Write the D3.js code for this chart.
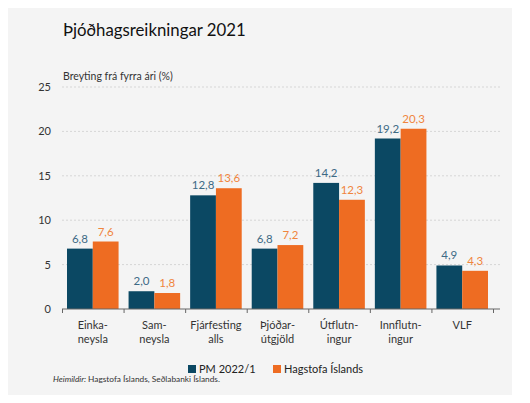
<!DOCTYPE html>
<html><head><meta charset="utf-8">
<script src="https://cdn.jsdelivr.net/npm/d3@7"></script>
<style>html,body{margin:0;padding:0;background:#fff;}svg{display:block;font-family:Lato,"Open Sans",sans-serif;}</style>
</head><body>
<svg id="c" width="530" height="403"></svg>
<script>
const categories = [["Einka-","neysla"],["Sam-","neysla"],["Fjárfesting","alls"],["Þjóðar-","útgjöld"],["Útflutn-","ingur"],["Innflutn-","ingur"],["VLF"]];
const seriesNames = ["PM 2022/1","Hagstofa Íslands"];
const pmValues = [6.8, 2.0, 12.8, 6.8, 14.2, 19.2, 4.9];
const hagValues = [7.6, 1.8, 13.6, 7.2, 12.3, 20.3, 4.3];
const yTicks = [0,5,10,15,20,25];
const colors = ["#0b4863","#ee6c22"];
const labelColors = ["#3d6a85","#f0853d"];

const svg = d3.select("#c");
svg.append("rect").attr("x",8).attr("y",8).attr("width",504).attr("height",387).attr("fill","#f4f4f4");

const x0 = d3.scaleBand().domain(d3.range(categories.length)).range([62,493]).paddingInner(0).paddingOuter(0);
const x1 = d3.scaleBand().domain([0,1]).range([5, x0.bandwidth()-5]).padding(0);
const y = d3.scaleLinear().domain([0,25]).range([309,87]);

// gridlines
svg.append("g").selectAll("line").data(yTicks.filter(d=>d>0)).join("line")
  .attr("x1",62).attr("x2",500).attr("y1",d=>y(d)).attr("y2",d=>y(d))
  .attr("stroke","#d6d6d6").attr("stroke-width",1).attr("stroke-dasharray","2,2");

// y tick labels
svg.append("g").selectAll("text").data(yTicks).join("text")
  .attr("x",51).attr("y",d=>y(d)+4).attr("text-anchor","end")
  .attr("font-size",11).attr("fill","#333").text(d=>d);

const data = [pmValues, hagValues];
data.forEach((vals,s)=>{
  svg.append("g").selectAll("rect").data(vals).join("rect")
    .attr("x",(d,i)=>x0(i)+x1(s)).attr("width",x1.bandwidth())
    .attr("y",d=>y(d)).attr("height",d=>y(0)-y(d))
    .attr("fill",colors[s]);
  svg.append("g").selectAll("text").data(vals).join("text")
    .attr("x",(d,i)=>x0(i)+x1(s)+x1.bandwidth()/2).attr("y",d=>y(d)-6)
    .attr("text-anchor","middle").attr("font-size",11.5).attr("fill",labelColors[s])
    .text(d=>d3.format(".1f")(d).replace(".",","));
});

// x axis
const xAxis = d3.axisBottom(d3.scaleLinear().domain([0,7]).range([62,493])).tickValues(d3.range(8)).tickSize(4).tickFormat("");
const ga = svg.append("g").attr("transform","translate(0,309)").call(xAxis);
ga.select(".domain").attr("stroke","#666").attr("d","M62,0H500");
ga.selectAll(".tick line").attr("stroke","#666");

// category labels
const cl = svg.append("g").selectAll("text").data(categories).join("text")
  .attr("x",(d,i)=>x0(i)+x0.bandwidth()/2).attr("y",329)
  .attr("text-anchor","middle").attr("font-size",11).attr("fill","#333");
cl.each(function(d){
  const t=d3.select(this);
  d.forEach((line,k)=>t.append("tspan").attr("x",t.attr("x")).attr("dy",k===0?0:14).text(line));
});

// title
svg.append("text").attr("x",63).attr("y",36).attr("font-size",16.8).attr("fill","#111").text("Þjóðhagsreikningar 2021");
svg.append("text").attr("x",63).attr("y",80).attr("font-size",10.5).attr("fill","#333").text("Breyting frá fyrra ári (%)");

// legend
const legX = [188, 273];
seriesNames.forEach((n,s)=>{
  svg.append("rect").attr("x",legX[s]).attr("y",365).attr("width",8).attr("height",8).attr("fill",colors[s]);
  svg.append("text").attr("x",legX[s]+11).attr("y",373).attr("font-size",11).attr("fill","#222").text(n);
});

// source
const src = svg.append("text").attr("x",53).attr("y",382).attr("font-size",8.3).attr("fill","#333");
src.append("tspan").attr("font-style","italic").text("Heimildir: ");
src.append("tspan").text("Hagstofa Íslands, Seðlabanki Íslands.");
</script>
</body></html>
